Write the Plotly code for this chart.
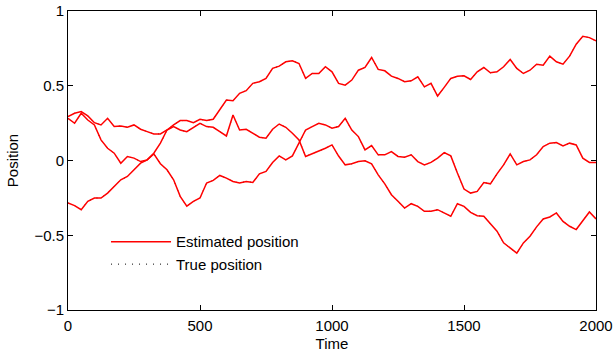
import plotly.graph_objects as go

# Time axis (sampled every 25 steps)
time = list(range(0, 2001, 25))

# Three trajectories (estimated ~ true)
traj_top = [0.293, 0.316, 0.327, 0.298, 0.253, 0.238, 0.282, 0.227, 0.231, 0.222,
            0.238, 0.209, 0.193, 0.178, 0.178, 0.204, 0.238, 0.267, 0.267, 0.253,
            0.276, 0.267, 0.276, 0.338, 0.404, 0.400, 0.449, 0.467, 0.516, 0.527,
            0.549, 0.616, 0.631, 0.660, 0.667, 0.649, 0.549, 0.582, 0.582, 0.627,
            0.593, 0.516, 0.504, 0.538, 0.604, 0.622, 0.689, 0.609, 0.600, 0.564,
            0.549, 0.527, 0.533, 0.560, 0.493, 0.516, 0.431, 0.489, 0.549, 0.564,
            0.567, 0.542, 0.593, 0.622, 0.587, 0.593, 0.627, 0.676, 0.616, 0.582,
            0.604, 0.644, 0.638, 0.698, 0.660, 0.644, 0.698, 0.778, 0.831, 0.822,
            0.800]

traj_mid = [0.282, 0.249, 0.316, 0.271, 0.238, 0.138, 0.082, 0.049, -0.018, 0.027,
            0.016, -0.007, 0.004, 0.044, -0.022, -0.062, -0.129, -0.240, -0.305, -0.273,
            -0.251, -0.151, -0.133, -0.100, -0.118, -0.140, -0.151, -0.140, -0.147, -0.089,
            -0.073, -0.013, 0.031, 0.004, 0.031, 0.120, 0.204, 0.227, 0.249, 0.238,
            0.216, 0.227, 0.282, 0.204, 0.160, 0.071, 0.100, 0.038, 0.038, 0.060,
            0.027, 0.022, 0.038, -0.007, -0.029, -0.013, 0.016, 0.053, 0.031, -0.084,
            -0.191, -0.218, -0.207, -0.147, -0.156, -0.089, -0.029, 0.044, -0.029, -0.007,
            0.004, 0.038, 0.093, 0.116, 0.120, 0.098, 0.116, 0.104, 0.016, -0.013,
            -0.013]

traj_low = [-0.284, -0.302, -0.329, -0.273, -0.251, -0.251, -0.218, -0.173, -0.129, -0.107,
            -0.062, -0.018, 0.004, 0.049, 0.116, 0.204, 0.227, 0.204, 0.193, 0.222,
            0.249, 0.227, 0.222, 0.193, 0.164, 0.304, 0.204, 0.209, 0.182, 0.156,
            0.149, 0.209, 0.244, 0.222, 0.182, 0.138, 0.027, 0.044, 0.060, 0.082,
            0.104, 0.030, -0.029, -0.022, -0.007, -0.002, -0.022, -0.096, -0.156, -0.229,
            -0.273, -0.318, -0.289, -0.307, -0.340, -0.340, -0.329, -0.351, -0.373, -0.289,
            -0.307, -0.347, -0.369, -0.373, -0.422, -0.473, -0.551, -0.584, -0.620, -0.551,
            -0.507, -0.444, -0.391, -0.378, -0.351, -0.407, -0.440, -0.462, -0.400, -0.344,
            -0.391]

series = [traj_top, traj_mid, traj_low]

FONT = "Liberation Sans, Arial, Helvetica, sans-serif"

fig = go.Figure()

# True positions (black dotted), underneath
for i, ys in enumerate(series):
    fig.add_trace(go.Scatter(
        x=time, y=ys, mode="lines",
        line=dict(color="black", width=1, dash="1px,6px"),
        name="True position", legendgroup="true",
        showlegend=(i == 0), legendrank=2, hoverinfo="skip"))

# Estimated positions (red solid)
for i, ys in enumerate(series):
    fig.add_trace(go.Scatter(
        x=time, y=ys, mode="lines",
        line=dict(color="#ff0000", width=1.5),
        name="Estimated position", legendgroup="est",
        showlegend=(i == 0), legendrank=1, hoverinfo="skip"))

axis_common = dict(
    showline=True, linecolor="black", linewidth=1, mirror="allticks",
    ticks="inside", ticklen=5, tickcolor="black", tickwidth=1,
    showgrid=False, zeroline=False,
    tickfont=dict(family=FONT, size=15, color="black"),
)

fig.update_xaxes(range=[0, 2000], tick0=0, dtick=500, ticklabelstandoff=2,
                 title=dict(text="Time", font=dict(family=FONT, size=15, color="black"), standoff=5),
                 **axis_common)
fig.update_yaxes(range=[-1, 1], tick0=0, dtick=0.5,
                 title=dict(text="Position", font=dict(family=FONT, size=15, color="black"), standoff=12),
                 **axis_common)

fig.update_layout(
    width=613, height=354,
    margin=dict(l=68, r=17, t=11, b=44, autoexpand=False),
    paper_bgcolor="white", plot_bgcolor="white",
    font=dict(family=FONT, size=15, color="black"),
    legend=dict(x=0.072, y=0.283, xanchor="left", yanchor="top",
                bgcolor="rgba(0,0,0,0)", borderwidth=0,
                font=dict(family=FONT, size=15, color="black"),
                tracegroupgap=0, itemwidth=60),
    showlegend=True,
)

fig.write_html(
    "out.html",
    config={"displayModeBar": False, "staticPlot": True},
    post_script="document.body.style.margin='0';document.body.style.overflow='hidden';",
)
